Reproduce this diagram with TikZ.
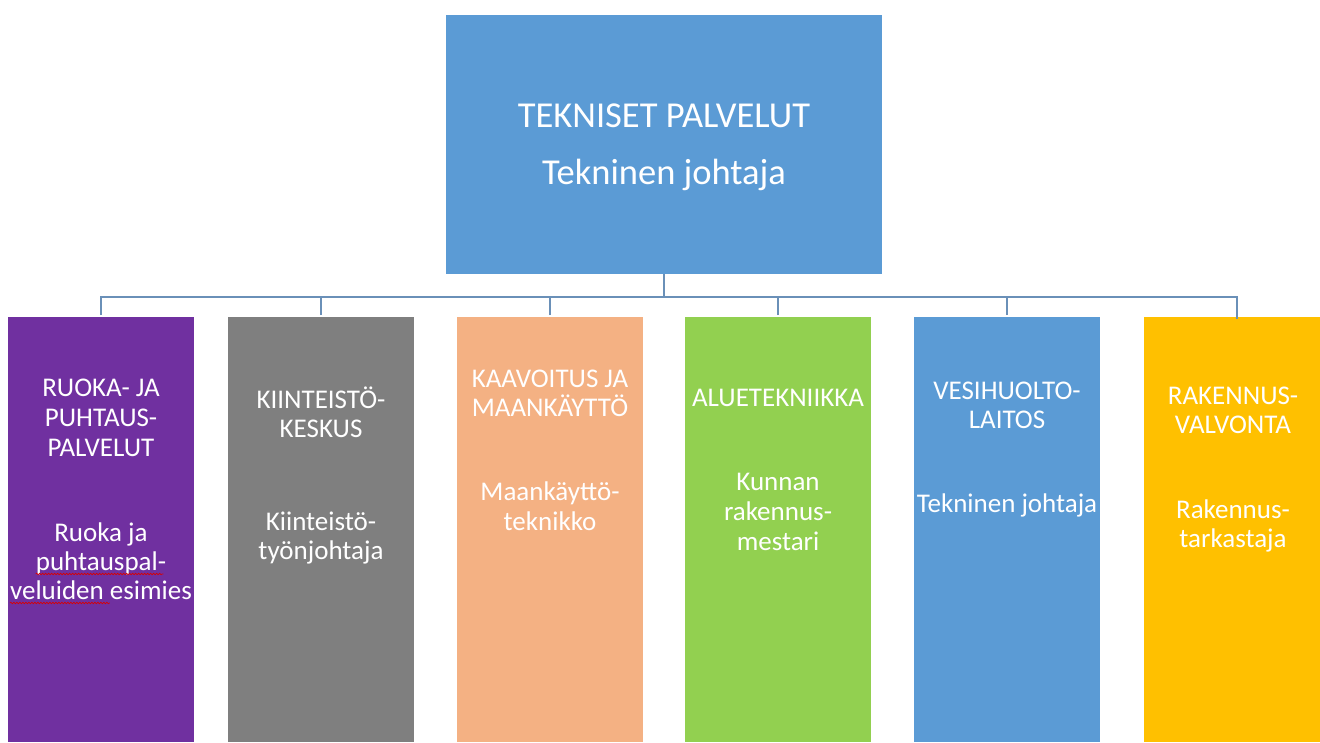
\documentclass[tikz,border=0pt]{standalone}
\usepackage{fontspec}
\setmainfont{Carlito}
\usetikzlibrary{decorations.pathmorphing}
\definecolor{cblue}{HTML}{5B9BD5}
\definecolor{cpurple}{HTML}{7030A0}
\definecolor{cgray}{HTML}{7F7F7F}
\definecolor{corange}{HTML}{F4B183}
\definecolor{cgreen}{HTML}{92D050}
\definecolor{cyellow}{HTML}{FFC000}
\definecolor{connc}{HTML}{6A90B8}
\begin{document}
\begin{tikzpicture}[x=1pt,y=-1pt,
  cbox/.style={inner sep=0pt, outer sep=0pt, anchor=north west, minimum width=186pt, minimum height=425pt},
  conn/.style={draw=connc, line width=1.4pt},
  hd/.style={text=white, font=\fontsize{27}{32}\selectfont, anchor=base, inner sep=0pt},
  sb/.style={text=white, font=\fontsize{27}{32}\selectfont, anchor=base, inner sep=0pt},
  tophd/.style={text=white, font=\fontsize{36.5}{44}\selectfont, anchor=base, inner sep=0pt},
  topsb/.style={text=white, font=\fontsize{36.5}{44}\selectfont, anchor=base, inner sep=0pt},
  squig/.style={draw=red!85!black, line width=0.6pt, decorate, decoration={snake, amplitude=0.8pt, segment length=3pt}}]
\useasboundingbox (0,0) rectangle (1320,742);
% top box
\node[fill=cblue, inner sep=0pt, outer sep=0pt, anchor=north west, minimum width=436pt, minimum height=259pt] (top) at (446,15) {};
\node[tophd] (topa) at (664,127) {TEKNISET PALVELUT};
\node[topsb] (topb) at (664,184) {Tekninen johtaja};
% child boxes
\node[cbox, fill=cpurple] (c1) at (8,317) {};
\node[cbox, fill=cgray] (c2) at (228,317) {};
\node[cbox, fill=corange] (c3) at (457,317) {};
\node[cbox, fill=cgreen] (c4) at (685,317) {};
\node[cbox, fill=cblue] (c5) at (914,317) {};
\node[cbox, fill=cyellow] (c6) at (1144,317) {};
% connectors
\coordinate (hub) at (664,297);
\draw[conn] (top.south) -- (hub);
\draw[conn, shorten <=2pt] (c1.north) -- (c1.north |- hub) -- (c6.north |- hub) -- ([yshift=-2pt]c6.north);
\foreach \c in {c2,c3,c4,c5} \draw[conn, shorten <=2pt] (\c.north) -- (\c.north |- hub);
% box 1
\node[hd] (h1a) at (101,396) {RUOKA- JA};
\node[hd] (h1b) at (101,426) {PUHTAUS-};
\node[hd] (h1c) at (101,456) {PALVELUT};
\node[sb] (s1a) at (101,541) {Ruoka ja};
\node[sb] (s1b) at (101,570) {puhtauspal-};
\node[sb] (s1c) at (101,599) {veluiden esimies};
\draw[squig] ([yshift=-4pt]s1b.base west) -- ([yshift=-4pt,xshift=-3pt]s1b.base east);
\draw[squig] ([yshift=-4pt]s1c.base west) -- ++(100,0);
% box 2
\node[hd] (h2a) at (321,408) {KIINTEISTÖ-};
\node[hd] (h2b) at (321,437) {KESKUS};
\node[sb] (s2a) at (321,530) {Kiinteistö-};
\node[sb] (s2b) at (321,559) {työnjohtaja};
% box 3
\node[hd] (h3a) at (550,387) {KAAVOITUS JA};
\node[hd] (h3b) at (550,416) {MAANKÄYTTÖ};
\node[sb] (s3a) at (550,500) {Maankäyttö-};
\node[sb] (s3b) at (550,530) {teknikko};
% box 4
\node[hd] (h4a) at (778,406) {ALUETEKNIIKKA};
\node[sb] (s4a) at (778,490) {Kunnan};
\node[sb] (s4b) at (778,520) {rakennus-};
\node[sb] (s4c) at (778,550) {mestari};
% box 5
\node[hd] (h5a) at (1007,399) {VESIHUOLTO-};
\node[hd] (h5b) at (1007,428) {LAITOS};
\node[sb] (s5a) at (1007,512) {Tekninen johtaja};
% box 6
\node[hd] (h6a) at (1233,404) {RAKENNUS-};
\node[hd] (h6b) at (1233,433) {VALVONTA};
\node[sb] (s6a) at (1233,518) {Rakennus-};
\node[sb] (s6b) at (1233,547) {tarkastaja};
\end{tikzpicture}
\end{document}
